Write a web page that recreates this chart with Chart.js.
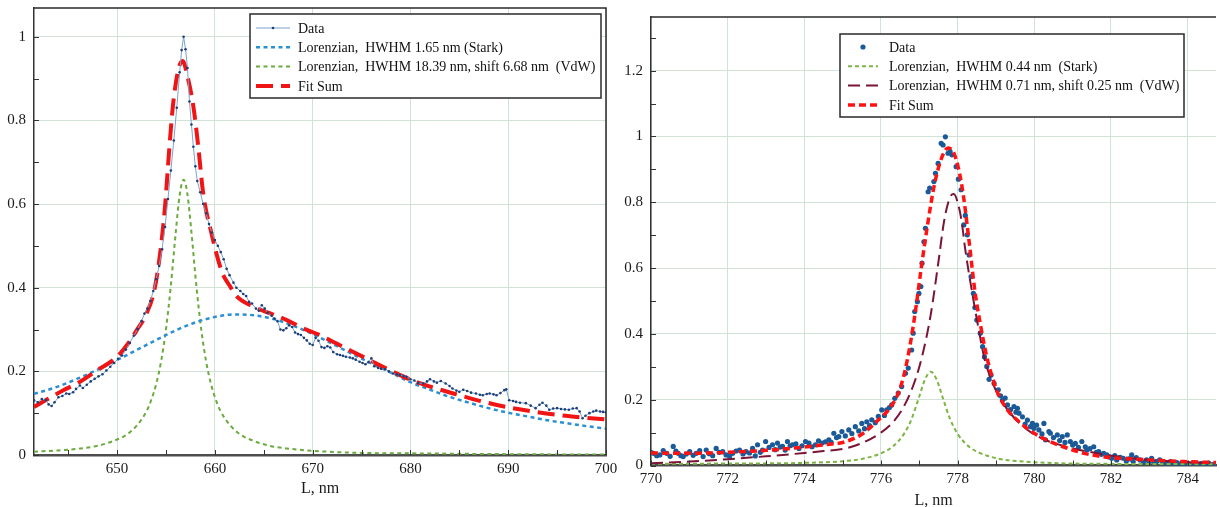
<!DOCTYPE html>
<html>
<head>
<meta charset="utf-8">
<script src="https://cdn.jsdelivr.net/npm/chart.js@4.4.1/dist/chart.umd.min.js"></script>
<style>
  html, body { margin: 0; padding: 0; background: #fff; overflow: hidden; width: 1220px; height: 507px; }
  canvas { position: absolute; top: 0; }
  #c1 { left: 0; }
  #c2 { left: 612px; }
</style>
</head>
<body>
<canvas id="c1" width="620" height="507"></canvas>
<canvas id="c2" width="608" height="520"></canvas>
<script>
// ---- left panel (H-alpha) ----
const leftXTicks = [650, 660, 670, 680, 690, 700];
const leftYTicks = [0, 0.2, 0.4, 0.6, 0.8, 1];
const leftYTickLabels = ['0', '0.2', '0.4', '0.6', '0.8', '1'];

const leftDataX = [641.5, 641.9, 642.3, 642.7, 643.0, 643.3, 643.6, 644.0, 644.4, 644.8, 645.1, 645.5, 645.8, 646.2, 646.5, 646.9,
  647.3, 647.7, 648.1, 648.5, 648.9, 649.3, 649.7, 650.1, 650.5, 650.9, 651.3, 651.7, 652.1, 652.5, 652.8, 653.1, 653.4, 653.7,
  654.0, 654.3, 654.6, 654.9, 655.2, 655.5, 655.8, 656.1, 656.4, 656.6, 656.8, 657.0, 657.2, 657.4, 657.6, 657.8, 658.0, 658.2,
  658.5, 658.8, 659.1, 659.4, 659.7, 660.0, 660.3, 660.6, 660.9, 661.2, 661.5, 661.9, 662.2, 662.6, 662.9, 663.2, 663.5, 663.8,
  664.2, 664.5, 664.8, 665.1, 665.4, 665.8, 666.1, 666.4, 666.7, 667.0, 667.3, 667.6, 667.9, 668.2, 668.5, 668.8, 669.1, 669.4,
  669.7, 670.0, 670.3, 670.6, 670.9, 671.2, 671.5, 671.8, 672.1, 672.5, 672.8, 673.1, 673.4, 673.8, 674.1, 674.4, 674.8, 675.1,
  675.4, 675.7, 676.0, 676.3, 676.7, 677.0, 677.4, 677.8, 678.2, 678.6, 678.9, 679.3, 679.6, 680.0, 680.4, 680.8, 681.3, 681.7,
  682.0, 682.4, 682.7, 683.1, 683.6, 684.0, 684.3, 684.7, 685.0, 685.4, 685.8, 686.2, 686.7, 687.1, 687.4, 687.8, 688.1, 688.5,
  688.8, 689.2, 689.6, 689.8, 690.1, 690.5, 690.8, 691.2, 691.8, 692.3, 692.8, 693.2, 693.5, 693.9, 694.2, 694.6, 695.0, 695.4,
  695.8, 696.2, 696.6, 697.0, 697.3, 697.6, 697.9, 698.3, 698.7, 699.0, 699.4, 699.7, 700.0];
const leftDataY = [0.131, 0.126, 0.134, 0.131, 0.121, 0.117, 0.126, 0.138, 0.141, 0.147, 0.146, 0.150, 0.158, 0.166, 0.160, 0.168,
  0.176, 0.182, 0.188, 0.193, 0.202, 0.211, 0.220, 0.230, 0.238, 0.252, 0.268, 0.285, 0.301, 0.320, 0.338, 0.350, 0.368, 0.392,
  0.420, 0.452, 0.492, 0.545, 0.612, 0.680, 0.752, 0.830, 0.915, 0.968, 1.000, 0.970, 0.925, 0.845, 0.790, 0.737, 0.690, 0.655,
  0.628, 0.600, 0.578, 0.552, 0.532, 0.514, 0.500, 0.485, 0.468, 0.445, 0.430, 0.412, 0.400, 0.392, 0.385, 0.380, 0.366, 0.362,
  0.350, 0.345, 0.358, 0.350, 0.340, 0.333, 0.326, 0.320, 0.300, 0.298, 0.303, 0.310, 0.306, 0.293, 0.289, 0.287, 0.280, 0.274,
  0.266, 0.263, 0.280, 0.273, 0.258, 0.256, 0.260, 0.257, 0.246, 0.241, 0.239, 0.237, 0.235, 0.233, 0.231, 0.228, 0.223, 0.220,
  0.217, 0.222, 0.231, 0.212, 0.208, 0.206, 0.205, 0.200, 0.195, 0.193, 0.191, 0.189, 0.187, 0.181, 0.178, 0.172, 0.171, 0.176,
  0.181, 0.176, 0.173, 0.177, 0.171, 0.165, 0.159, 0.154, 0.151, 0.156, 0.153, 0.149, 0.147, 0.144, 0.143, 0.146, 0.147, 0.145,
  0.143, 0.148, 0.155, 0.157, 0.131, 0.129, 0.127, 0.125, 0.124, 0.118, 0.112, 0.120, 0.125, 0.118, 0.108, 0.111, 0.112, 0.110,
  0.109, 0.108, 0.111, 0.112, 0.104, 0.088, 0.094, 0.100, 0.104, 0.106, 0.104, 0.103, 0.102];

const leftBroadX = [641.5, 644, 646, 648, 650, 652, 654, 656, 658, 660, 662, 662.5, 664, 666, 668, 670, 672, 674, 676, 678, 680,
  682, 684, 686, 688, 690, 692, 694, 696, 698, 700];
const leftBroadY = [0.146, 0.164, 0.183, 0.204, 0.227, 0.251, 0.275, 0.298, 0.317, 0.330, 0.336, 0.336, 0.334, 0.325, 0.309,
  0.289, 0.266, 0.242, 0.219, 0.197, 0.174, 0.156, 0.139, 0.125, 0.112, 0.101, 0.092, 0.083, 0.076, 0.069, 0.063];

const leftNarrowX = [641.5, 644, 646, 648, 650, 651, 652, 653, 653.5, 654, 654.5, 655, 655.5, 656, 656.4, 656.8, 657.2, 657.6,
  658.1, 658.6, 659.1, 659.6, 660.1, 660.6, 661.6, 662.6, 663.6, 665.6, 667.6, 670, 675, 680, 690, 700];
const leftNarrowY = [0.008, 0.011, 0.015, 0.022, 0.037, 0.049, 0.070, 0.104, 0.132, 0.170, 0.224, 0.301, 0.406, 0.533, 0.622,
  0.658, 0.622, 0.533, 0.406, 0.301, 0.224, 0.170, 0.132, 0.104, 0.070, 0.049, 0.037, 0.022, 0.015, 0.010, 0.005, 0.004, 0.002, 0.001];

const leftFitX = [641.5, 643, 644.5, 646, 648, 650, 651.3, 652, 652.9, 653.8, 654.4, 654.9, 655.3, 655.7, 656.2, 656.7, 657.2,
  657.8, 658.3, 658.8, 659.65, 660.7, 661.5, 662.2, 663.9, 665.6, 667.3, 669, 670.7, 672.4, 674.1, 675.8, 677.5, 680, 682.5,
  685, 687.5, 690, 692.5, 695, 697.5, 700];
const leftFitY = [0.115, 0.135, 0.155, 0.172, 0.203, 0.235, 0.272, 0.298, 0.333, 0.393, 0.482, 0.594, 0.721, 0.833, 0.915, 0.942,
  0.905, 0.833, 0.737, 0.626, 0.530, 0.439, 0.405, 0.380, 0.355, 0.339, 0.323, 0.303, 0.287, 0.267, 0.247, 0.227, 0.207, 0.180,
  0.160, 0.143, 0.127, 0.114, 0.104, 0.096, 0.090, 0.085];

// ---- right panel (O I 777 nm) ----
const rightXTicks = [770, 772, 774, 776, 778, 780, 782, 784];
const rightYTicks = [0, 0.2, 0.4, 0.6, 0.8, 1, 1.2];
const rightYTickLabels = ['0', '0.2', '0.4', '0.6', '0.8', '1', '1.2'];

const rightDataX = [770.00, 770.06, 770.15, 770.23, 770.32, 770.41, 770.50, 770.58, 770.65, 770.71, 770.78, 770.84, 770.92, 771.01,
  771.10, 771.18, 771.27, 771.36, 771.44, 771.52, 771.61, 771.70, 771.78, 771.87, 771.96, 772.05, 772.13, 772.22, 772.31, 772.40,
  772.48, 772.57, 772.65, 772.72, 772.78, 772.85, 772.91, 772.99, 773.08, 773.17, 773.24, 773.30, 773.37, 773.43, 773.50, 773.56,
  773.63, 773.69, 773.78, 773.86, 773.94, 774.03, 774.12, 774.20, 774.29, 774.37, 774.46, 774.55, 774.64, 774.70, 774.77, 774.84,
  774.90, 774.98, 775.07, 775.16, 775.24, 775.33, 775.42, 775.50, 775.57, 775.63, 775.70, 775.76, 775.85, 775.93, 776.02, 776.09,
  776.15, 776.22, 776.28, 776.36, 776.45, 776.54, 776.64, 776.71, 776.80, 776.84, 776.88, 776.95, 776.99, 777.04, 777.07, 777.12,
  777.16, 777.23, 777.27, 777.38, 777.42, 777.49, 777.57, 777.62, 777.68, 777.75, 777.80, 777.85, 777.96, 778.02, 778.09, 778.16,
  778.20, 778.25, 778.30, 778.35, 778.41, 778.45, 778.50, 778.59, 778.65, 778.70, 778.76, 778.82, 778.87, 778.95, 779.06, 779.12,
  779.17, 779.24, 779.30, 779.38, 779.47, 779.52, 779.56, 779.60, 779.69, 779.76, 779.82, 779.90, 779.95, 779.99, 780.06, 780.12,
  780.20, 780.25, 780.29, 780.38, 780.42, 780.50, 780.60, 780.66, 780.73, 780.80, 780.86, 780.94, 781.00, 781.07, 781.15, 781.24,
  781.33, 781.37, 781.45, 781.55, 781.62, 781.68, 781.75, 781.81, 781.89, 781.95, 782.02, 782.10, 782.15, 782.24, 782.32, 782.40,
  782.48, 782.54, 782.58, 782.66, 782.76, 782.85, 782.93, 783.00, 783.06, 783.12, 783.19, 783.27, 783.35, 783.45, 783.55, 783.62,
  783.72, 783.80, 783.88, 783.96, 784.05, 784.15, 784.25, 784.35, 784.45, 784.55, 784.65, 784.74];
const rightDataY = [0.040, 0.037, 0.030, 0.032, 0.045, 0.037, 0.028, 0.058, 0.044, 0.037, 0.030, 0.027, 0.035, 0.042,
  0.031, 0.037, 0.045, 0.027, 0.047, 0.036, 0.030, 0.052, 0.040, 0.042, 0.032, 0.028, 0.037, 0.044, 0.047, 0.035,
  0.042, 0.038, 0.052, 0.029, 0.063, 0.040, 0.047, 0.073, 0.055, 0.063, 0.048, 0.068, 0.056, 0.058, 0.047, 0.073,
  0.060, 0.063, 0.066, 0.052, 0.060, 0.073, 0.068, 0.057, 0.063, 0.075, 0.068, 0.072, 0.078, 0.070, 0.098, 0.085,
  0.088, 0.103, 0.090, 0.108, 0.097, 0.118, 0.105, 0.128, 0.112, 0.133, 0.121, 0.139, 0.130, 0.149, 0.169, 0.152,
  0.169, 0.176, 0.184, 0.204, 0.220, 0.240, 0.280, 0.296, 0.351, 0.402, 0.468, 0.498, 0.523, 0.544, 0.615, 0.680,
  0.721, 0.832, 0.843, 0.863, 0.888, 0.918, 0.979, 0.974, 0.999, 0.949, 0.955, 0.944, 0.908, 0.870, 0.838, 0.731,
  0.760, 0.701, 0.640, 0.574, 0.523, 0.480, 0.442, 0.402, 0.361, 0.330, 0.301, 0.262, 0.275, 0.250, 0.230, 0.212,
  0.199, 0.205, 0.184, 0.170, 0.179, 0.162, 0.174, 0.159, 0.148, 0.126, 0.138, 0.118, 0.128, 0.113, 0.123, 0.108,
  0.096, 0.128, 0.078, 0.103, 0.098, 0.085, 0.093, 0.076, 0.088, 0.070, 0.093, 0.073, 0.062, 0.067, 0.055, 0.073,
  0.057, 0.047, 0.051, 0.057, 0.040, 0.042, 0.034, 0.037, 0.032, 0.026, 0.022, 0.030, 0.017, 0.025, 0.022, 0.014,
  0.020, 0.032, 0.012, 0.024, 0.017, 0.010, 0.017, 0.012, 0.022, 0.009, 0.012, 0.017, 0.008, 0.007, 0.012, 0.005,
  0.009, 0.004, 0.002, 0.007, 0.004, 0.008, 0.003, 0.006, 0.004, 0.007, 0.003, 0.005];

const rightStarkX = [770, 772, 774, 775, 775.5, 776, 776.3, 776.6, 776.8, 777.0, 777.15, 777.3, 777.45, 777.6, 777.8, 778.0,
  778.3, 778.6, 779.1, 779.6, 780.6, 782, 784.74];
const rightStarkY = [0.005, 0.006, 0.008, 0.013, 0.020, 0.037, 0.057, 0.096, 0.142, 0.210, 0.262, 0.285, 0.262, 0.210, 0.142,
  0.096, 0.057, 0.037, 0.020, 0.013, 0.007, 0.005, 0.004];

const rightVdwX = [770.0, 771.0, 772.0, 773.0, 774.0, 774.5, 775.0, 775.5, 776.0, 776.3, 776.6, 776.9, 777.1, 777.3, 777.5,
  777.65, 777.8, 777.9, 778.0, 778.1, 778.2, 778.35, 778.5, 778.7, 778.9, 779.1, 779.4, 779.8, 780.2, 780.8, 781.5, 782.2,
  783.0, 784.0, 784.74];
const rightVdwY = [0.007, 0.012, 0.019, 0.028, 0.038, 0.044, 0.050, 0.068, 0.100, 0.130, 0.180, 0.262, 0.345, 0.460, 0.620,
  0.745, 0.815, 0.825, 0.800, 0.745, 0.655, 0.545, 0.445, 0.325, 0.255, 0.205, 0.155, 0.110, 0.082, 0.058, 0.040, 0.027,
  0.017, 0.010, 0.007];

const rightFitX = [770.0, 771.0, 772.0, 773.0, 774.0, 774.6, 775.0, 775.5, 775.9, 776.2, 776.45, 776.6, 776.75, 776.9, 777.05,
  777.2, 777.4, 777.6, 777.75, 777.9, 778.05, 778.15, 778.3, 778.45, 778.6, 778.75, 778.9, 779.05, 779.3, 779.6, 780.0, 780.4,
  780.9, 781.3, 781.7, 782.2, 783.0, 783.9, 784.74];
const rightFitY = [0.038, 0.037, 0.040, 0.046, 0.056, 0.064, 0.070, 0.095, 0.135, 0.170, 0.219, 0.275, 0.360, 0.470, 0.600,
  0.720, 0.857, 0.940, 0.965, 0.950, 0.888, 0.820, 0.680, 0.530, 0.425, 0.335, 0.270, 0.219, 0.169, 0.133, 0.098, 0.073,
  0.051, 0.037, 0.028, 0.022, 0.017, 0.012, 0.009];

const pts = (xs, ys) => xs.map((x, i) => ({ x: x, y: ys[i] }));

const serif = '"Liberation Serif", "Times New Roman", serif';
const gridColor = '#d2e2d6';

// box around the plot, the library only draws the axis lines itself
const framePlugin = {
    id: 'frame',
    afterDatasetsDraw(chart, args, opts) {
        const { ctx, chartArea: a } = chart;
        ctx.save();
        ctx.strokeStyle = opts.color;
        ctx.lineWidth = opts.width;
        ctx.beginPath();
        ctx.moveTo(a.left, a.top);
        ctx.lineTo(a.right, a.top);
        if (opts.right) {
            ctx.lineTo(a.right, a.bottom);
        }
        ctx.stroke();
        ctx.restore();
    }
};

// small inward minor ticks along left and bottom axes
const minorTicks = {
    id: 'minorTicks',
    afterDatasetsDraw(chart, args, opts) {
        const { ctx, chartArea: a, scales } = chart;
        ctx.save();
        ctx.strokeStyle = '#333';
        ctx.lineWidth = 1;
        ctx.beginPath();
        const xs = scales.x, ys = scales.y;
        const x0 = Math.ceil(xs.min / opts.xStep) * opts.xStep;
        for (let v = x0; v <= xs.max + 1e-9; v += opts.xStep) {
            const px = Math.round(xs.getPixelForValue(v)) + 0.5;
            ctx.moveTo(px, a.bottom);
            ctx.lineTo(px, a.bottom - opts.len);
        }
        for (let v = 0; v <= ys.max + 1e-9; v += opts.yStep) {
            const py = Math.round(ys.getPixelForValue(v)) + 0.5;
            ctx.moveTo(a.left, py);
            ctx.lineTo(a.left + opts.len, py);
        }
        ctx.stroke();
        ctx.restore();
    }
};

// legend box drawn inside the plot, built from the dataset styles
const boxLegend = {
    id: 'boxLegend',
    afterDraw(chart, args, opts) {
        const ctx = chart.ctx;
        ctx.save();
        ctx.fillStyle = '#fff';
        ctx.fillRect(opts.x, opts.y, opts.w, opts.h);
        ctx.strokeStyle = '#2a2a2a';
        ctx.lineWidth = 1.5;
        ctx.strokeRect(opts.x, opts.y, opts.w, opts.h);
        ctx.font = opts.font;
        ctx.textBaseline = 'middle';
        chart.data.datasets.forEach((ds, i) => {
            const y = opts.y + opts.firstRow + i * opts.rowGap;
            const x0 = opts.x + opts.sampleLeft;
            const x1 = x0 + opts.sampleWidth;
            if (ds.showLine !== false) {
                ctx.setLineDash(ds.borderDash || []);
                ctx.lineWidth = ds.borderWidth;
                ctx.strokeStyle = ds.borderColor;
                ctx.beginPath();
                ctx.moveTo(x0, y);
                ctx.lineTo(x1, y);
                ctx.stroke();
                ctx.setLineDash([]);
            }
            if (ds.pointRadius > 0) {
                ctx.fillStyle = ds.pointBackgroundColor;
                ctx.beginPath();
                ctx.arc((x0 + x1) / 2, y, ds.pointRadius, 0, Math.PI * 2);
                ctx.fill();
            }
            ctx.fillStyle = '#111';
            ctx.fillText(ds.label, opts.x + opts.textLeft, y + 1);
        });
        ctx.restore();
    }
};

function axisX(min, max, ticks, height, tickPad, titlePad) {
    return {
        type: 'linear', min: min, max: max,
        afterBuildTicks: s => { s.ticks = ticks.map(v => ({ value: v })); },
        afterFit: s => { s.height = height; s.paddingLeft = 0; s.paddingRight = 0; },
        grid: { color: gridColor, lineWidth: 1, drawTicks: false },
        border: { display: true, color: '#4d4d4d', width: 2.5 },
        ticks: { font: { family: serif, size: 15 }, color: '#1a1a1a', padding: tickPad,
                 maxRotation: 0, autoSkip: false, callback: v => String(v) },
        title: { display: true, text: 'L, nm', font: { family: serif, size: 16 }, color: '#1a1a1a',
                 padding: { top: 0, bottom: titlePad } }
    };
}

function axisY(max, ticks, labels, width) {
    return {
        min: 0, max: max,
        afterBuildTicks: s => { s.ticks = ticks.map(v => ({ value: v })); },
        afterFit: s => { s.width = width; s.paddingTop = 0; s.paddingBottom = 0; },
        grid: { color: gridColor, lineWidth: 1, drawTicks: false },
        border: { display: true, color: '#333', width: 1.5 },
        ticks: { font: { family: serif, size: 15 }, color: '#1a1a1a', padding: 8,
                 callback: (v, i) => labels[i] }
    };
}

new Chart(document.getElementById('c1'), {
    type: 'line',
    data: {
        datasets: [
            { label: 'Data', data: pts(leftDataX, leftDataY), borderColor: '#7aa3cc', borderWidth: 1,
              pointRadius: 1.3, pointBackgroundColor: '#1d3f78', pointBorderWidth: 0, order: 0 },
            { label: 'Lorenzian,  HWHM 1.65 nm (Stark)', data: pts(leftBroadX, leftBroadY), borderColor: '#2b8fd4',
              borderWidth: 2.5, borderDash: [4, 3.5], pointRadius: 0, cubicInterpolationMode: 'monotone', order: 2 },
            { label: 'Lorenzian,  HWHM 18.39 nm, shift 6.68 nm  (VdW)', data: pts(leftNarrowX, leftNarrowY),
              borderColor: '#6aaa3e', borderWidth: 2, borderDash: [4, 3.5], pointRadius: 0,
              cubicInterpolationMode: 'monotone', order: 3 },
            { label: 'Fit Sum', data: pts(leftFitX, leftFitY), borderColor: '#f01414', borderWidth: 4,
              borderDash: [17, 8], pointRadius: 0, cubicInterpolationMode: 'monotone', order: 1 }
        ]
    },
    options: {
        responsive: false,
        animation: false,
        devicePixelRatio: 1,
        layout: { padding: { left: 0, top: 8, right: 14, bottom: 0 } },
        scales: {
            x: axisX(641.5, 700, leftXTicks, 52, 5, 9),
            y: axisY(1.0686, leftYTicks, leftYTickLabels, 34)
        },
        plugins: {
            legend: { display: false },
            tooltip: { enabled: false },
            frame: { color: '#2a2a2a', width: 1.5, right: true },
            minorTicks: { xStep: 5, yStep: 0.1, len: 5 },
            boxLegend: { x: 250, y: 14, w: 351, h: 84, firstRow: 14, rowGap: 19.3, sampleLeft: 6,
                         sampleWidth: 34, textLeft: 48, font: '14px ' + serif }
        }
    },
    plugins: [framePlugin, minorTicks, boxLegend]
});

new Chart(document.getElementById('c2'), {
    type: 'line',
    data: {
        datasets: [
            { label: 'Data', data: pts(rightDataX, rightDataY), showLine: false, pointRadius: 2.6,
              pointBackgroundColor: '#1b5a98', pointBorderWidth: 0, order: 3 },
            { label: 'Lorenzian,  HWHM 0.44 nm  (Stark)', data: pts(rightStarkX, rightStarkY), borderColor: '#7db544',
              borderWidth: 2, borderDash: [4, 3], pointRadius: 0, cubicInterpolationMode: 'monotone', order: 2 },
            { label: 'Lorenzian,  HWHM 0.71 nm, shift 0.25 nm  (VdW)', data: pts(rightVdwX, rightVdwY),
              borderColor: '#7a1538', borderWidth: 2, borderDash: [12, 6], pointRadius: 0,
              cubicInterpolationMode: 'monotone', order: 1 },
            { label: 'Fit Sum', data: pts(rightFitX, rightFitY), borderColor: '#ff1212', borderWidth: 3.5,
              borderDash: [7, 4], pointRadius: 0, cubicInterpolationMode: 'monotone', order: 0 }
        ]
    },
    options: {
        responsive: false,
        animation: false,
        devicePixelRatio: 1,
        layout: { padding: { left: 0, top: 17, right: 0, bottom: 0 } },
        scales: {
            x: axisX(770, 784.74, rightXTicks, 54.5, 5, 10),
            y: axisY(1.363, rightYTicks, rightYTickLabels, 39)
        },
        plugins: {
            legend: { display: false },
            tooltip: { enabled: false },
            frame: { color: '#2a2a2a', width: 1.5, right: false },
            minorTicks: { xStep: 1, yStep: 0.1, len: 5 },
            boxLegend: { x: 228, y: 34, w: 344, h: 83, firstRow: 13, rowGap: 19.3, sampleLeft: 8,
                         sampleWidth: 30, textLeft: 49, font: '14px ' + serif }
        }
    },
    plugins: [framePlugin, minorTicks, boxLegend]
});
</script>
</body>
</html>
